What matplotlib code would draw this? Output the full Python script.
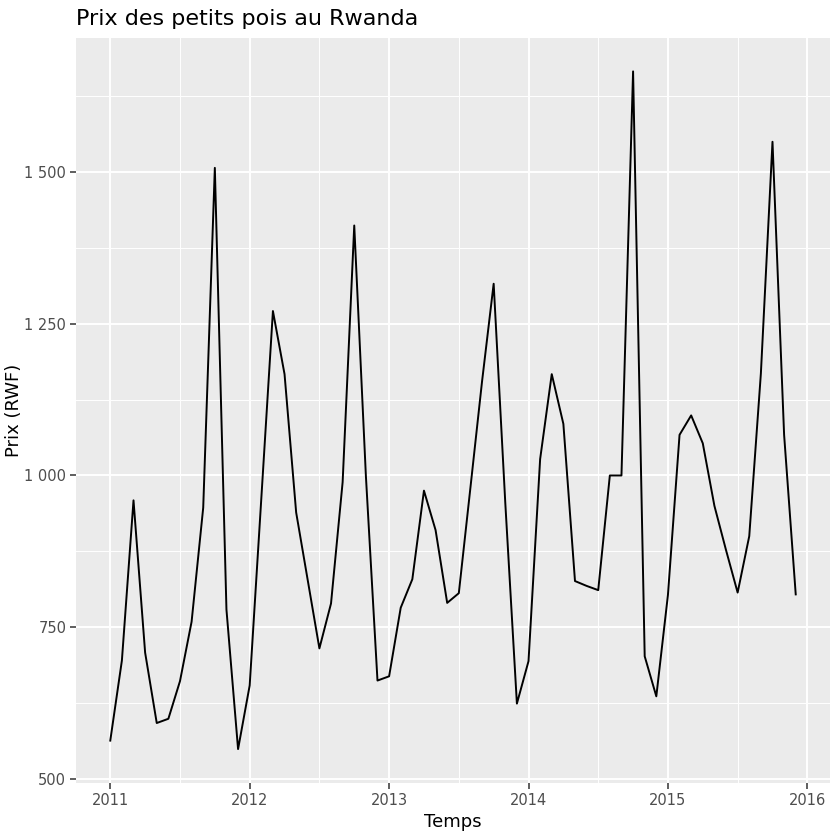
import numpy as np
import pandas as pd
import matplotlib
matplotlib.use('Agg')
import matplotlib.pyplot as plt
from matplotlib.ticker import FuncFormatter

# monthly pea prices, Jan 2011 -> Dec 2015
prix_2011 = [563, 695, 959, 708, 592, 599, 661, 759, 947, 1507, 779, 549]
prix_2012 = [654, 962, 1271, 1167, 939, 827, 715, 789, 989, 1412, 1000, 662]
prix_2013 = [669, 782, 829, 975, 910, 790, 806, 980, 1155, 1316, 955, 624]
prix_2014 = [694, 1027, 1167, 1085, 826, 818, 811, 1000, 1000, 1666, 702, 636]
prix_2015 = [803, 1067, 1099, 1053, 950, 877, 807, 900, 1168, 1550, 1067, 804]

prix = np.array(prix_2011 + prix_2012 + prix_2013 + prix_2014 + prix_2015, dtype=float)
temps = 2011 + np.arange(len(prix)) / 12.0

x_ticks = [2011, 2012, 2013, 2014, 2015, 2016]
y_ticks = [500, 750, 1000, 1250, 1500]

### ---------------------------------------------------------------------------
### ggplot-like look
bg = '#EBEBEB'
txt_grey = '#4D4D4D'

fig = plt.figure(figsize=(8.4, 8.4), dpi=100)
ax = fig.add_axes([76/840, 1 - 783/840, (830 - 76)/840, (783 - 37.5)/840])
ax.set_facecolor(bg)

ax.plot(temps, prix, color='black', linewidth=1.4, zorder=5)

# 5% expansion like ggplot
def expand(lo, hi, f=0.05):
    d = (hi - lo) * f
    return lo - d, hi + d

ax.set_xlim(*expand(temps.min(), temps.max()))
ax.set_ylim(*expand(prix.min(), prix.max()))

ax.set_xticks(x_ticks)
ax.set_yticks(y_ticks)
ax.set_xticks([x + 0.5 for x in x_ticks[:-1]], minor=True)
ax.set_yticks([y + 125 for y in y_ticks], minor=True)
ax.yaxis.set_major_formatter(FuncFormatter(lambda v, p: '{:,.0f}'.format(v).replace(',', ' ')))

ax.grid(which='major', color='white', linewidth=1.4, zorder=0)
ax.grid(which='minor', color='white', linewidth=0.7, zorder=0)
ax.set_axisbelow(True)

for s in ax.spines.values():
    s.set_visible(False)

ax.tick_params(axis='both', which='major', labelsize=10.5, labelcolor=txt_grey,
               color='#333333', length=4, width=1.1, pad=3)
ax.tick_params(axis='both', which='minor', length=0)

ax.set_xlabel('Temps', fontsize=13, labelpad=4)
ax.set_ylabel('Prix (RWF)', fontsize=13)
ax.yaxis.set_label_coords(-0.0705, 0.5)
ax.set_title('Prix des petits pois au Rwanda', fontsize=16, loc='left', pad=9)

plt.savefig('out.png', dpi=100)
